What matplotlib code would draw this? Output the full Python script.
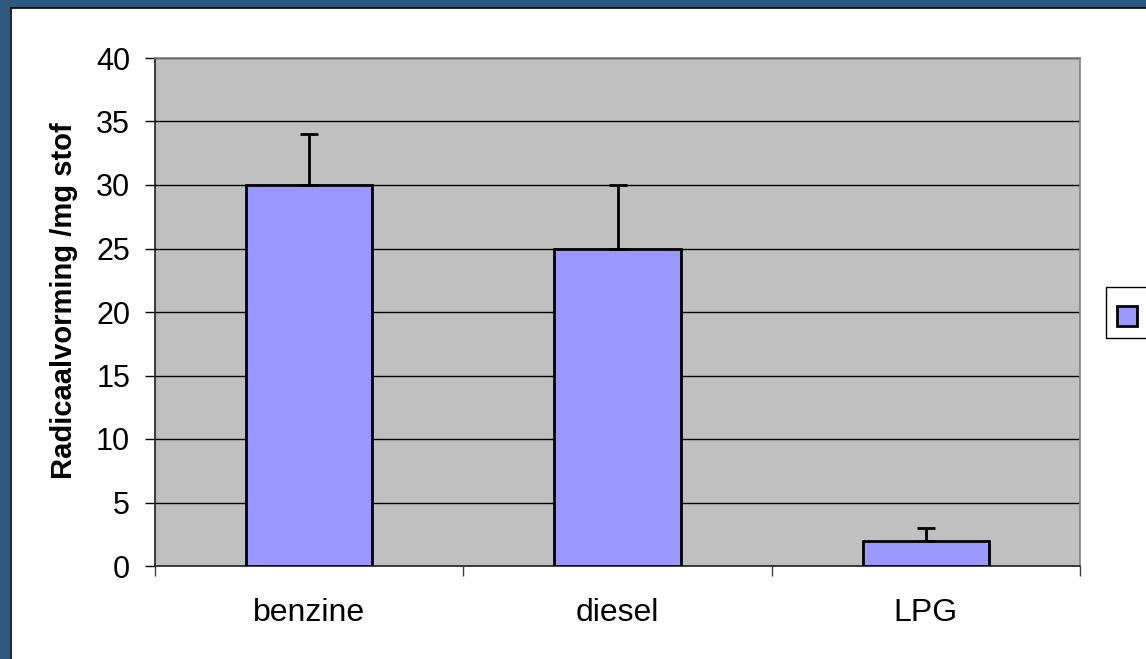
import matplotlib
matplotlib.use("Agg")
import matplotlib.pyplot as plt
from matplotlib.patches import Rectangle
import numpy as np

categories = ["benzine", "diesel", "LPG"]
values = [30, 25, 2]
errors = [4, 5, 1]
yticks = [0, 5, 10, 15, 20, 25, 30, 35, 40]

plt.rcParams['font.family'] = ['Liberation Sans', 'DejaVu Sans']

W, H = 1146, 659
fig = plt.figure(figsize=(W / 100, H / 100), dpi=100)
fig.patch.set_facecolor("white")

# blue frame on left / top with thin black line
fig.patches.append(Rectangle((0, 0), 10 / W, 1, transform=fig.transFigure,
                             facecolor="#2E5A80", edgecolor="none", zorder=0))
fig.patches.append(Rectangle((0, 1 - 7.5 / H), 1, 7.5 / H, transform=fig.transFigure,
                             facecolor="#2E5A80", edgecolor="none", zorder=0))
fig.lines.append(plt.Line2D([10.5 / W, 10.5 / W], [0, 1 - 8 / H], transform=fig.transFigure,
                            color="black", lw=1.2))
fig.lines.append(plt.Line2D([10.5 / W, 1], [1 - 8 / H, 1 - 8 / H], transform=fig.transFigure,
                            color="black", lw=1.2))

left, right, top, bottom = 155, 1080, 58, 566
ax = fig.add_axes([left / W, 1 - bottom / H, (right - left) / W, (bottom - top) / H])
ax.set_facecolor("#C0C0C0")

x = np.arange(len(categories))
ax.bar(x, values, width=0.41, color="#9999FF", edgecolor="black", linewidth=2, zorder=3)
ax.errorbar(x, values, yerr=[np.zeros(len(errors)), errors], fmt="none",
            ecolor="black", elinewidth=2, capsize=6.5, capthick=2, zorder=4)

ax.set_xlim(-0.5, len(categories) - 0.5)
ax.set_ylim(0, 40)
ax.set_yticks(yticks)
ax.set_yticklabels([str(v) for v in yticks])
ax.yaxis.grid(True, color="black", lw=1)
ax.set_axisbelow(True)

ax.set_xticks(np.arange(len(categories) + 1) - 0.5, minor=False)
ax.set_xticklabels([])
ax.set_xticks(x, minor=True)
ax.set_xticklabels(categories, minor=True)
ax.tick_params(axis="x", which="major", length=7, color="#404040", width=1)
ax.tick_params(axis="x", which="minor", length=0, pad=23, labelsize=23)
ax.tick_params(axis="y", length=7, color="black", width=1, pad=11, labelsize=22)

for s in ax.spines.values():
    s.set_color("#808080")
    s.set_linewidth(1.2)
ax.spines["left"].set_color("#202020")
ax.spines["bottom"].set_color("#202020")

ax.set_ylabel("Radicaalvorming /mg stof", fontsize=21, fontweight="bold")
ax.yaxis.set_label_coords((78 - left) / (right - left), (bottom - 301) / (bottom - top))

# legend box, partially cut off at right edge
fig.patches.append(Rectangle((1106 / W, 1 - 338 / H), 60 / W, 51 / H, transform=fig.transFigure,
                             facecolor="white", edgecolor="black", lw=1, zorder=5))
fig.patches.append(Rectangle((1117 / W, 1 - 326 / H), 20 / W, 20 / H, transform=fig.transFigure,
                             facecolor="#9999FF", edgecolor="black", lw=2, zorder=6))

fig.savefig("out.png", dpi=100)
